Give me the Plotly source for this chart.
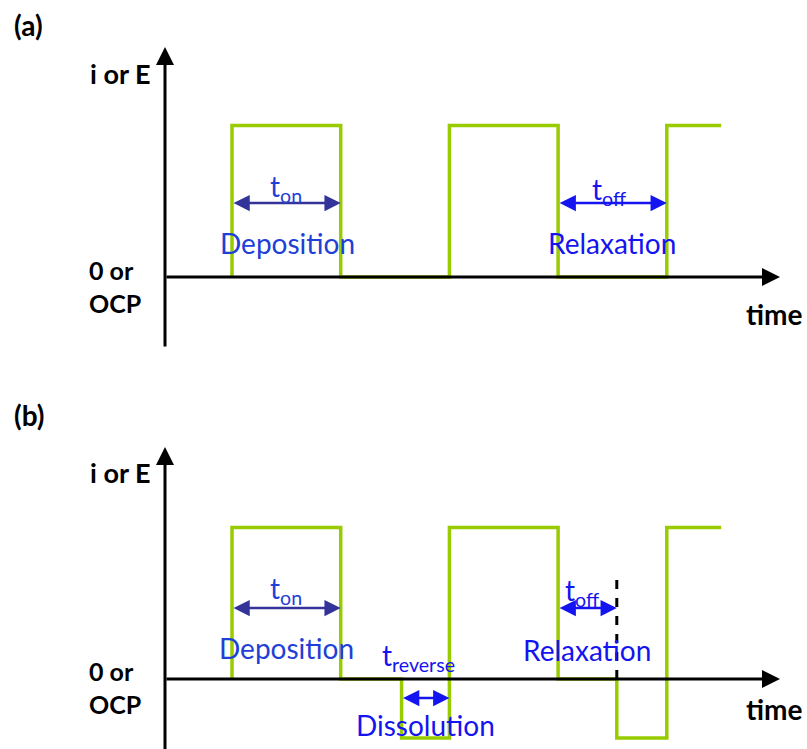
import plotly.graph_objects as go

# ---------------- data ----------------
# panel (a): unipolar pulse train (time in units of t_on, level relative to pulse height)
t_a = [1, 1, 2, 3, 4, 5, 5.5]
level_a = [0, 1, 0, 1, 0, 1, 1]
# panel (b): pulse train with reverse (dissolution) pulses
t_b = [1, 1, 2, 2.56, 3, 4, 4.54, 5, 5.5]
level_b = [0, 1, 0, -0.39, 1, 0, -0.39, 1, 1]

# interval markers: (start, end)
ton_a = (1, 2)
toff_a = (4, 5)
ton_b = (1, 2)
trev_b = (2.56, 3)
toff_b = (4, 4.54)

# ---------------- styling / geometry ----------------
W, H = 807, 749
GREEN = "#99CC00"
NAVY = "#333399"
BLUE = "#1414F0"
BLUE2 = "#1F40D6"
FONT = "Lato"

# pixel mapping: t=1 at x=232 px, 108.7 px per unit
X0_PX, X_SCALE = 232, 108.7
Y_SCALE = 151.5
ZERO_A, ZERO_B = 277, 679

x_range = [1 - X0_PX / X_SCALE, 1 + (W - X0_PX) / X_SCALE]
ya_range = [(ZERO_A - H) / Y_SCALE, ZERO_A / Y_SCALE]
yb_range = [(ZERO_B - H) / Y_SCALE, ZERO_B / Y_SCALE]

T_AXIS = 1 + (165 - X0_PX) / X_SCALE
T_END = 1 + (780 - X0_PX) / X_SCALE


def ya(py):
    return (ZERO_A - py) / Y_SCALE


def yb(py):
    return (ZERO_B - py) / Y_SCALE


fig = go.Figure()
fig.add_trace(go.Scatter(x=t_a, y=level_a, mode="lines",
                         line=dict(color=GREEN, width=3.5, shape="hv"),
                         xaxis="x", yaxis="y", hoverinfo="skip"))
fig.add_trace(go.Scatter(x=t_b, y=level_b, mode="lines",
                         line=dict(color=GREEN, width=3.5, shape="hv"),
                         xaxis="x", yaxis="y2", hoverinfo="skip"))

ann = []


def arrow(x0, y0, x1, y1, yref, color, width, size, both=False):
    ann.append(dict(x=x1, y=y1, ax=x0, ay=y0, xref="x", yref=yref,
                    axref="x", ayref=yref, text="", showarrow=True,
                    arrowhead=2, startarrowhead=2, arrowsize=size,
                    startarrowsize=size,
                    arrowwidth=width, arrowcolor=color,
                    arrowside="end+start" if both else "end",
                    standoff=0, startstandoff=0))


def text(x, y, s, yref, color, size, bold=False, xanchor="center", xref="x"):
    ann.append(dict(x=x, y=y, xref=xref, yref=yref, text=s, showarrow=False,
                    xanchor=xanchor, yanchor="middle",
                    font=dict(family=FONT, size=size, color=color,
                              weight="bold" if bold else "normal")))


# axes (panel a)
arrow(T_AXIS, ya(348), T_AXIS, ya(47), "y", "black", 3, 1.2)
arrow(T_AXIS, 0, T_END, 0, "y", "black", 3, 1.2)
# axes (panel b)
arrow(T_AXIS, yb(760), T_AXIS, yb(447), "y2", "black", 3, 1.2)
arrow(T_AXIS, 0, T_END, 0, "y2", "black", 3, 1.2)

# interval arrows
arrow(ton_a[0], ya(203), ton_a[1], ya(203), "y", NAVY, 2.5, 1.3, True)
arrow(toff_a[0], ya(203), toff_a[1], ya(203), "y", BLUE, 2.5, 1.3, True)
arrow(ton_b[0], yb(608), ton_b[1], yb(608), "y2", NAVY, 2.5, 1.3, True)
arrow(trev_b[0], yb(698), trev_b[1], yb(698), "y2", BLUE, 2.5, 1.3, True)
arrow(toff_b[0], yb(608), toff_b[1], yb(608), "y2", BLUE, 2.5, 1.3, True)

# interval labels
mid = lambda p: (p[0] + p[1]) / 2
LBL = 28
text(mid(ton_a), ya(188), "t<sub>on</sub>", "y", BLUE2, LBL)
text(mid(ton_a) + 0.01, ya(243), "Deposition", "y", BLUE2, LBL)
text(mid(toff_a) - 0.03, ya(191), "t<sub>off</sub>", "y", BLUE, LBL)
text(mid(toff_a), ya(243), "Relaxation", "y", BLUE, LBL)

text(mid(ton_b), yb(590), "t<sub>on</sub>", "y2", BLUE2, LBL)
text(mid(ton_b), yb(648), "Deposition", "y2", BLUE2, LBL)
text(mid(trev_b) - 0.06, yb(657), "t<sub>reverse</sub>", "y2", BLUE, LBL)
text(mid(trev_b), yb(725), "Dissolution", "y2", BLUE, LBL)
text(mid(toff_b) - 0.05, yb(592), "t<sub>off</sub>", "y2", BLUE, LBL)
text(mid(toff_b), yb(650), "Relaxation", "y2", BLUE, LBL)

# axis labels (paper coordinates)
def ptext(px, py, s, xanchor, size=27, align="left"):
    ann.append(dict(x=px / W, y=1 - py / H, xref="paper", yref="paper", text=s,
                    showarrow=False, xanchor=xanchor, yanchor="middle", align=align,
                    font=dict(family=FONT, size=size, color="black", weight="bold")))


ptext(12, 25, "(a)", "left", 28)
ptext(12, 415, "(b)", "left", 28)
ptext(153, 73, "i or E", "right")
ptext(153, 472, "i or E", "right")
ptext(87, 286, "0 or<br>OCP", "left", 25)
ptext(87, 687, "0 or<br>OCP", "left", 25)
ptext(744, 314, "time", "left", 28)
ptext(744, 709, "time", "left", 28)

shapes = [dict(type="line", xref="x", yref="y2", x0=toff_b[1], x1=toff_b[1],
               y0=0, y1=yb(580), line=dict(color="black", width=3, dash="dash"))]

fig.update_layout(
    width=W, height=H, margin=dict(l=0, r=0, t=0, b=0),
    paper_bgcolor="white", plot_bgcolor="white", showlegend=False,
    xaxis=dict(range=x_range, visible=False, domain=[0, 1]),
    yaxis=dict(range=ya_range, visible=False, domain=[0, 1]),
    yaxis2=dict(range=yb_range, visible=False, domain=[0, 1], overlaying="y", anchor="x"),
    annotations=ann, shapes=shapes,
)

fig.write_html("out.html")
